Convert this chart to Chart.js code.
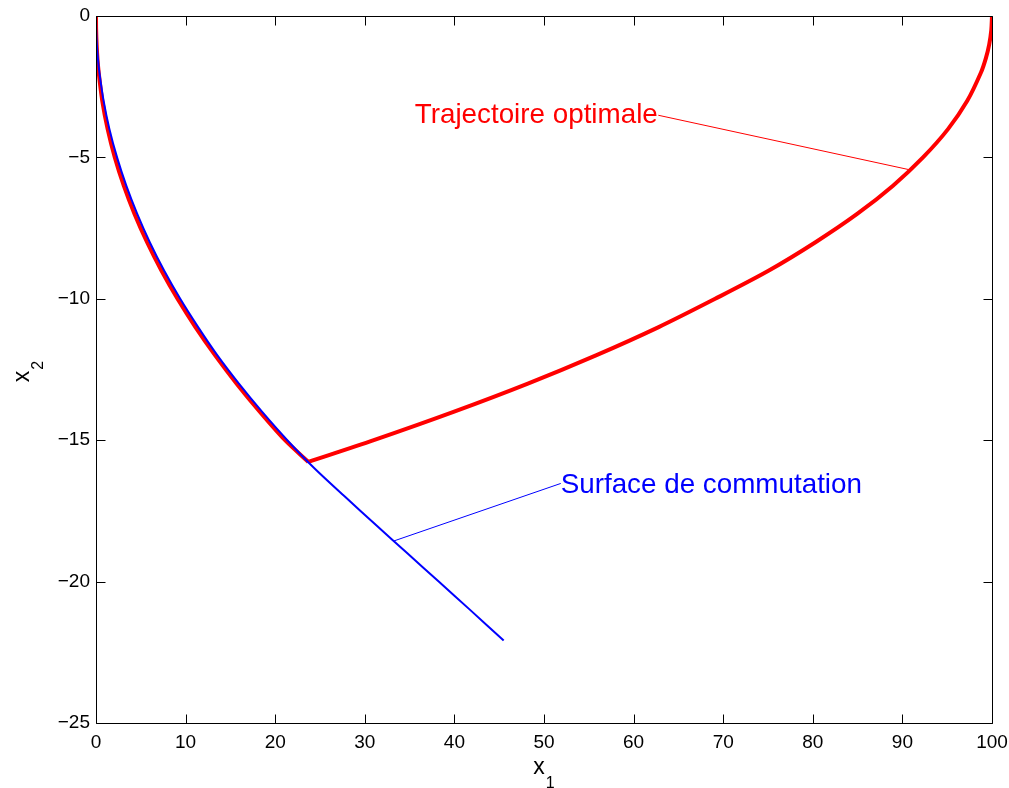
<!DOCTYPE html>
<html>
<head>
<meta charset="utf-8">
<script src="https://cdn.jsdelivr.net/npm/chart.js@4.4.0/dist/chart.umd.min.js"></script>
<style>
  html, body { margin: 0; padding: 0; background: #fff; }
  #wrap { width: 1009px; height: 788px; position: relative; }
</style>
</head>
<body>
<div id="wrap"><canvas id="c"></canvas></div>
<script>
// ---- data (x1, x2) ----
const surfaceX2 = [0, -0.5, -1, -1.5, -2, -3, -4, -5, -6, -7, -8, -9, -10, -11, -12, -13, -14, -15, -16, -17, -18, -19, -20, -21, -22.08];
const surfaceX1 = [0, 0.024, 0.094, 0.21, 0.38, 0.85, 1.5, 2.35, 3.38, 4.6, 6.0, 7.6, 9.4, 11.4, 13.55, 15.95, 18.55, 21.35, 24.4, 27.8, 31.25, 34.75, 38.25, 41.75, 45.5];

const trajLeftX2 = [0, -0.5, -1, -1.5, -2, -3, -4, -5, -6, -7, -8, -9, -10, -11, -12, -13, -14, -15, -15.77];
const trajLeftX1 = [0, 0.015, 0.07, 0.16, 0.3, 0.7, 1.3, 2.1, 3.1, 4.3, 5.7, 7.3, 9.1, 11.1, 13.3, 15.7, 18.3, 21.1, 23.7];

const trajRightX2 = [-15.77, -15, -14, -13, -12, -11, -10, -9, -8, -7, -6, -5, -4, -3, -2, -1.5, -1, -0.5, 0];
const trajRightX1 = [23.7, 31.0, 39.9, 48.2, 55.8, 62.8, 69.1, 75.1, 80.3, 84.95, 88.95, 92.3, 95.09, 97.24, 98.77, 99.31, 99.69, 99.92, 100];

const xTicks = [0, 10, 20, 30, 40, 50, 60, 70, 80, 90, 100];
const yTicks = [-25, -20, -15, -10, -5, 0];

// annotations (data coordinates)
const trajLabel = 'Trajectoire optimale';
const trajLabelAnchor = [62.7, -3.78];
const trajArrow = [[62.76, -3.51], [90.69, -5.43]];
const surfLabel = 'Surface de commutation';
const surfLabelAnchor = [51.86, -16.87];
const surfArrow = [[51.87, -16.53], [33.18, -18.57]];

const RED = '#ff0000';
const BLUE = '#0000ff';
const FONT = "'Liberation Sans', Arial, Helvetica, sans-serif";

function pts(xs, ys) { return xs.map((x, i) => ({ x: x, y: ys[i] })); }
function pairPts(arr) { return arr.map(p => ({ x: p[0], y: p[1] })); }

const framePlugin = {
  id: 'frame',
  afterDraw(chart) {
    const ctx = chart.ctx;
    const a = chart.chartArea;
    const xs = chart.scales.x, ys = chart.scales.y;
    ctx.save();
    ctx.strokeStyle = '#000';
    ctx.lineWidth = 1;
    const L = Math.round(a.left) + 0.5, R = Math.round(a.right) + 0.5;
    const T = Math.round(a.top) + 0.5, B = Math.round(a.bottom) + 0.5;
    ctx.beginPath();
    ctx.rect(L, T, R - L, B - T);
    ctx.stroke();
    const tl = 9;
    ctx.beginPath();
    xTicks.forEach(v => {
      const px = Math.round(xs.getPixelForValue(v)) + 0.5;
      ctx.moveTo(px, B); ctx.lineTo(px, B - tl);
      ctx.moveTo(px, T); ctx.lineTo(px, T + tl);
    });
    yTicks.forEach(v => {
      const py = Math.round(ys.getPixelForValue(v)) + 0.5;
      ctx.moveTo(L, py); ctx.lineTo(L + tl, py);
      ctx.moveTo(R, py); ctx.lineTo(R - tl, py);
    });
    ctx.stroke();

    // annotation texts
    ctx.font = '27.8px ' + FONT;
    ctx.textBaseline = 'alphabetic';
    ctx.fillStyle = RED;
    ctx.textAlign = 'right';
    ctx.fillText(trajLabel, xs.getPixelForValue(trajLabelAnchor[0]), ys.getPixelForValue(trajLabelAnchor[1]));
    ctx.fillStyle = BLUE;
    ctx.textAlign = 'left';
    ctx.fillText(surfLabel, xs.getPixelForValue(surfLabelAnchor[0]), ys.getPixelForValue(surfLabelAnchor[1]));

    // axis titles with subscripts
    ctx.fillStyle = '#000';
    const mainF = '23px ' + FONT, subF = '16px ' + FONT;
    ctx.textAlign = 'left';
    // x1
    ctx.font = mainF; const wx = ctx.measureText('x').width;
    ctx.font = subF; const w1 = ctx.measureText('1').width;
    const cx = (a.left + a.right) / 2;
    const startX = cx - (wx + w1 + 1) / 2;
    ctx.font = mainF; ctx.fillText('x', startX, 774);
    ctx.font = subF; ctx.fillText('1', startX + wx + 1, 788);
    // x2 (rotated)
    const cy = (a.top + a.bottom) / 2;
    ctx.save();
    ctx.translate(29, cy + 2);
    ctx.rotate(-Math.PI / 2);
    ctx.font = subF; const w2 = ctx.measureText('2').width;
    const sx = -(wx + w2 + 1) / 2;
    ctx.font = mainF; ctx.fillText('x', sx, 0);
    ctx.font = subF; ctx.fillText('2', sx + wx + 1, 14);
    ctx.restore();
    ctx.restore();
  }
};

new Chart(document.getElementById('c'), {
  type: 'scatter',
  data: {
    datasets: [
      { label: 'Surface de commutation', data: pts(surfaceX1, surfaceX2), showLine: true, borderColor: BLUE, borderWidth: 2, pointRadius: 0, tension: 0.3, order: 0 },
      { label: 'Trajectoire optimale (1)', data: pts(trajLeftX1, trajLeftX2), showLine: true, borderColor: RED, borderWidth: 4, pointRadius: 0, tension: 0.3, order: 2 },
      { label: 'Trajectoire optimale (2)', data: pts(trajRightX1, trajRightX2), showLine: true, borderColor: RED, borderWidth: 4, pointRadius: 0, tension: 0.3, order: 2 },
      { label: 'arrow1', data: pairPts(trajArrow), showLine: true, borderColor: RED, borderWidth: 1, pointRadius: 0, order: 1 },
      { label: 'arrow2', data: pairPts(surfArrow), showLine: true, borderColor: BLUE, borderWidth: 1, pointRadius: 0, order: 1 }
    ]
  },
  options: {
    responsive: true,
    maintainAspectRatio: false,
    animation: false,
    layout: { padding: { left: 0, right: 17, top: 16, bottom: 0 } },
    plugins: { legend: { display: false }, tooltip: { enabled: false } },
    scales: {
      x: {
        type: 'linear', min: 0, max: 100,
        afterBuildTicks: s => { s.ticks = xTicks.map(v => ({ value: v })); },
        afterFit: s => { s.height = 65; s.paddingLeft = 0; s.paddingRight = 0; },
        grid: { display: false, drawTicks: false },
        border: { display: false },
        ticks: { color: '#000', font: { size: 19, family: FONT }, padding: 8, maxRotation: 0, callback: v => String(v).replace('-', '\u2212') }
      },
      y: {
        type: 'linear', min: -25, max: 0,
        afterBuildTicks: s => { s.ticks = yTicks.map(v => ({ value: v })); },
        afterFit: s => { s.width = 96; s.paddingTop = 0; s.paddingBottom = 0; },
        grid: { display: false, drawTicks: false },
        border: { display: false },
        ticks: { color: '#000', font: { size: 19, family: FONT }, padding: 6, callback: v => String(v).replace('-', '\u2212') }
      }
    }
  },
  plugins: [framePlugin]
});
</script>
</body>
</html>
